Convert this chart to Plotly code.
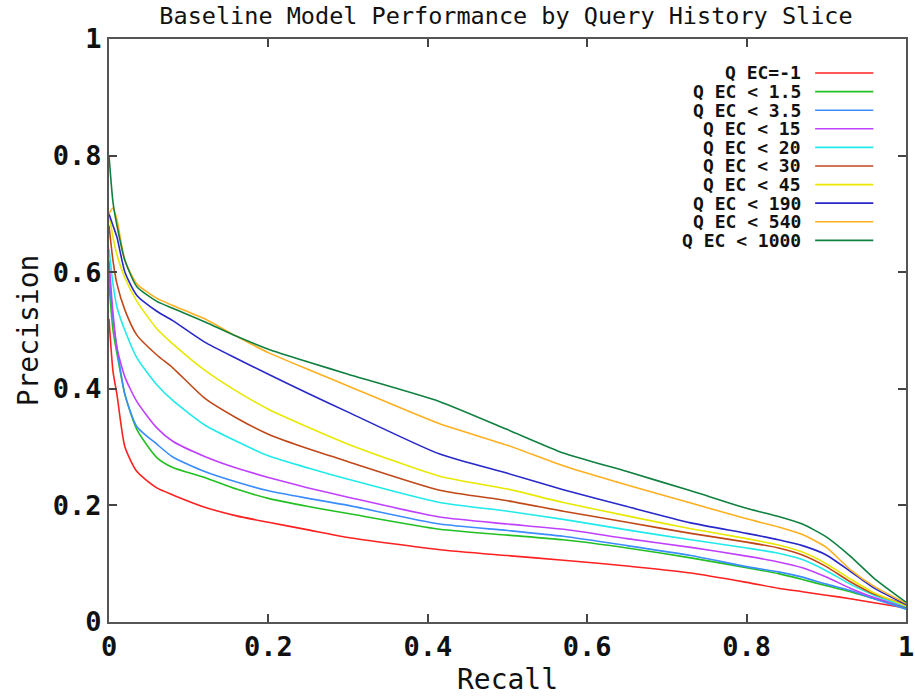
import plotly.graph_objects as go

recall = [0, 0.005, 0.01, 0.02, 0.035, 0.06, 0.08, 0.12, 0.16, 0.2, 0.25, 0.3,
          0.415, 0.5, 0.57, 0.65, 0.73, 0.8, 0.84, 0.87, 0.9, 0.93, 0.96, 1.0]

labels = ["Q EC=-1", "Q EC < 1.5", "Q EC < 3.5", "Q EC < 15", "Q EC < 20",
          "Q EC < 30", "Q EC < 45", "Q EC < 190", "Q EC < 540", "Q EC < 1000"]

p_ec_m1 = [0.52, 0.43, 0.39, 0.30, 0.258, 0.23, 0.218, 0.197, 0.182, 0.171, 0.158, 0.145,
           0.124, 0.114, 0.106, 0.096, 0.084, 0.068, 0.058, 0.052, 0.046, 0.040, 0.033, 0.024]
p_ec_1_5 = [0.58, 0.50, 0.46, 0.39, 0.33, 0.282, 0.265, 0.248, 0.228, 0.212, 0.198, 0.186,
            0.159, 0.149, 0.141, 0.127, 0.110, 0.093, 0.083, 0.073, 0.062, 0.052, 0.040, 0.025]
p_ec_3_5 = [0.60, 0.52, 0.47, 0.39, 0.335, 0.305, 0.283, 0.258, 0.240, 0.225, 0.212, 0.200,
            0.168, 0.157, 0.147, 0.131, 0.114, 0.095, 0.086, 0.077, 0.065, 0.054, 0.040, 0.022]
p_ec_15 = [0.62, 0.53, 0.47, 0.42, 0.378, 0.333, 0.310, 0.284, 0.264, 0.248, 0.230, 0.214,
           0.180, 0.168, 0.159, 0.143, 0.128, 0.113, 0.103, 0.093, 0.077, 0.058, 0.042, 0.026]
p_ec_20 = [0.64, 0.58, 0.54, 0.50, 0.453, 0.407, 0.380, 0.338, 0.310, 0.285, 0.264, 0.245,
           0.205, 0.190, 0.176, 0.158, 0.141, 0.127, 0.118, 0.107, 0.088, 0.065, 0.046, 0.027]
p_ec_30 = [0.68, 0.62, 0.58, 0.535, 0.492, 0.458, 0.436, 0.384, 0.350, 0.322, 0.297, 0.275,
           0.226, 0.208, 0.190, 0.171, 0.152, 0.137, 0.127, 0.115, 0.095, 0.069, 0.048, 0.030]
p_ec_45 = [0.70, 0.66, 0.63, 0.59, 0.55, 0.503, 0.477, 0.432, 0.396, 0.365, 0.334, 0.305,
           0.250, 0.228, 0.205, 0.182, 0.160, 0.143, 0.132, 0.120, 0.100, 0.074, 0.050, 0.028]
p_ec_190 = [0.70, 0.68, 0.66, 0.60, 0.56, 0.533, 0.517, 0.480, 0.452, 0.425, 0.392, 0.360,
            0.288, 0.255, 0.227, 0.198, 0.170, 0.152, 0.141, 0.131, 0.115, 0.087, 0.058, 0.030]
p_ec_540 = [0.70, 0.71, 0.69, 0.62, 0.58, 0.555, 0.543, 0.520, 0.490, 0.462, 0.433, 0.405,
            0.340, 0.303, 0.268, 0.235, 0.204, 0.177, 0.163, 0.150, 0.128, 0.090, 0.061, 0.032]
p_ec_1000 = [0.80, 0.72, 0.68, 0.62, 0.575, 0.550, 0.538, 0.515, 0.490, 0.468, 0.446, 0.425,
             0.378, 0.330, 0.290, 0.258, 0.225, 0.195, 0.181, 0.168, 0.146, 0.113, 0.075, 0.034]

series = [p_ec_m1, p_ec_1_5, p_ec_3_5, p_ec_15, p_ec_20,
          p_ec_30, p_ec_45, p_ec_190, p_ec_540, p_ec_1000]

colors = ["#ff2020", "#22c022", "#3a8cff", "#c040ff", "#20eaea",
          "#c04818", "#e8e800", "#2828c8", "#ffb020", "#108040"]

MONO = "DejaVu Sans Mono"

fig = go.Figure()
for lab, ys, col in zip(labels, series, colors):
    fig.add_trace(go.Scatter(x=recall, y=ys, mode="lines", name=lab,
                             line=dict(color=col, width=1.6, shape="spline", smoothing=0.6),
                             showlegend=False))

# custom gnuplot-style legend: right-aligned text, sample line on the right
leg_y0 = 0.9417
leg_dy = 0.0319
for i, (lab, col) in enumerate(zip(labels, colors)):
    yy = leg_y0 - i * leg_dy
    fig.add_annotation(x=0.871, y=yy, xref="paper", yref="paper", text=lab,
                       showarrow=False, xanchor="right", yanchor="middle",
                       font=dict(family=MONO, size=18, color="#111", weight="bold"))
    fig.add_shape(type="line", xref="paper", yref="paper", x0=0.886, x1=0.959,
                  y0=yy, y1=yy, line=dict(color=col, width=1.6))

axis_common = dict(range=[0, 1], tickvals=[0, 0.2, 0.4, 0.6, 0.8, 1],
                   ticktext=["0", "0.2", "0.4", "0.6", "0.8", "1"],
                   ticks="inside", ticklen=8, tickwidth=1.5, tickcolor="#444",
                   showline=True, linecolor="#555", linewidth=2, mirror="ticks",
                   showgrid=False, zeroline=False, automargin=False,
                   tickfont=dict(family=MONO, size=27, color="#111", weight="bold"))

fig.update_xaxes(**axis_common,
                 title=dict(text="Recall", standoff=8,
                            font=dict(family=MONO, size=28, color="#111")))
fig.update_yaxes(**axis_common,
                 title=dict(text="Precision", standoff=6,
                            font=dict(family=MONO, size=28, color="#111")))

fig.update_layout(
    width=915, height=698,
    margin=dict(l=109, r=9, t=39, b=76),
    paper_bgcolor="white", plot_bgcolor="white",
    title=dict(text="Baseline Model Performance by Query History Slice",
               x=0.553, xanchor="center", y=0.978, yanchor="middle", yref="container",
               font=dict(family=MONO, size=23.5, color="#111")),
)

fig.write_html("out.html", config={"displayModeBar": False},
               post_script="document.body.style.margin='0px';")
